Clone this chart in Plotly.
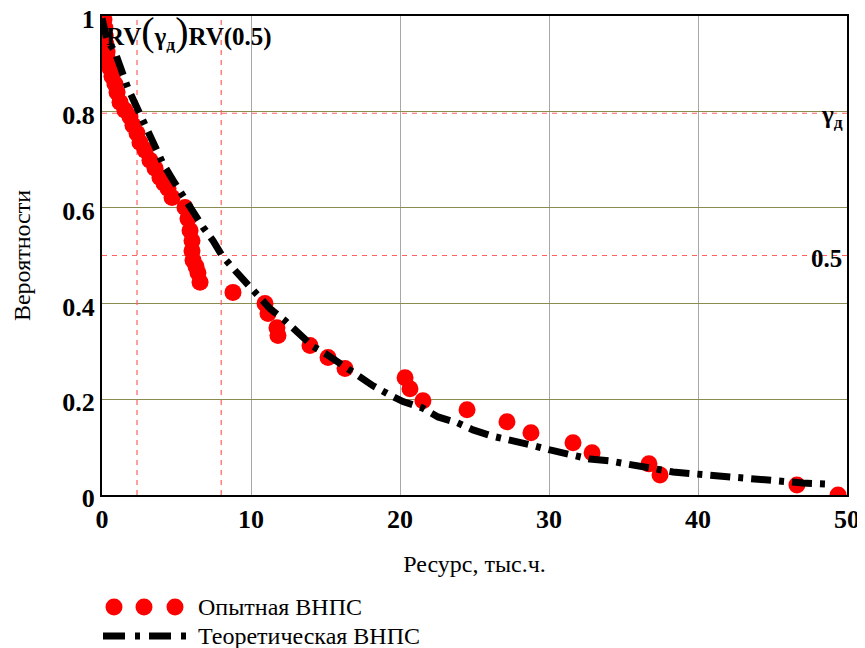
import plotly.graph_objects as go

# ---- data ----
exp_x = [0.05, 0.13, 0.20, 0.22, 0.27, 0.34, 0.40, 0.54, 0.67, 0.87, 1.01, 1.21, 1.54, 1.88, 2.08,
         2.35, 2.55, 2.89, 3.22, 3.56, 3.89, 4.16, 4.43, 4.70, 5.57, 5.77, 5.91, 6.04, 6.04, 6.11,
         6.31, 6.44, 6.58, 8.79, 10.94, 11.14, 11.74, 11.81, 13.96, 15.17, 16.31, 20.34, 20.67,
         21.54, 24.50, 27.18, 28.79, 31.61, 32.89, 36.71, 37.45, 46.64, 49.40]
exp_y = [1.000, 0.992, 0.975, 0.958, 0.941, 0.925, 0.908, 0.891, 0.874, 0.858, 0.841, 0.820, 0.803,
         0.789, 0.772, 0.755, 0.736, 0.720, 0.699, 0.682, 0.663, 0.651, 0.640, 0.621, 0.600, 0.577,
         0.552, 0.531, 0.510, 0.490, 0.477, 0.464, 0.444, 0.423, 0.400, 0.379, 0.349, 0.333, 0.312,
         0.287, 0.264, 0.245, 0.222, 0.197, 0.178, 0.153, 0.130, 0.109, 0.088, 0.065, 0.042, 0.021,
         0.000]

theo_x = [0.0, 0.34, 0.87, 1.34, 1.74, 2.21, 2.89, 3.56, 4.09, 4.77, 5.37, 6.11, 6.78, 7.45, 8.05,
          9.06, 9.73, 10.60, 11.28, 12.28, 13.09, 14.16, 15.10, 16.17, 17.05, 18.19, 19.19, 20.20,
          21.48, 22.55, 23.83, 24.90, 26.17, 27.52, 28.72, 30.07, 31.28, 32.75, 34.09, 35.44, 36.91,
          38.32, 39.80, 41.28, 42.68, 44.16, 45.70, 47.05, 48.59]
theo_y = [0.995, 0.950, 0.925, 0.881, 0.849, 0.818, 0.772, 0.734, 0.692, 0.657, 0.626, 0.594, 0.559,
          0.531, 0.500, 0.464, 0.441, 0.416, 0.389, 0.364, 0.339, 0.310, 0.293, 0.270, 0.251, 0.228,
          0.211, 0.195, 0.182, 0.163, 0.151, 0.136, 0.123, 0.115, 0.105, 0.094, 0.084, 0.075, 0.071,
          0.063, 0.056, 0.048, 0.044, 0.040, 0.038, 0.031, 0.029, 0.025, 0.023]

gamma_d = 0.8      # доверительная вероятность
rv_gamma = 2.35    # RV(γд)
rv_half = 8.0      # RV(0.5)
x_range = [0, 50]
y_range = [0, 1]
x_ticks = [0, 10, 20, 30, 40, 50]
y_ticks = [0, 0.2, 0.4, 0.6, 0.8, 1]
y_tick_text = ["0", "0.2", "0.4", "0.6", "0.8", "1"]

RED = "#ff0000"
REF = "#ff6060"
SERIF = '"Liberation Serif", "Times New Roman", Times, serif'
DASHDOT = "20px,8px,5px,8px"

# page geometry (the html body adds an 8px offset)
OFF = 8
W, H = 865, 648
PLOT_L, PLOT_R, PLOT_T, PLOT_B = 102, 847, 16, 495   # wanted page pixels


def px_x(p):
    return (p - PLOT_L) / (PLOT_R - PLOT_L)


def px_y(p):
    return (PLOT_B - p) / (PLOT_B - PLOT_T)


fig = go.Figure()

# reference (dashed red) lines
ref_style = dict(color=REF, width=1.2, dash="5px,5px")
fig.add_trace(go.Scatter(x=x_range, y=[gamma_d - 0.003, gamma_d - 0.003], mode="lines", line=ref_style,
                         hoverinfo="skip"))
fig.add_trace(go.Scatter(x=x_range, y=[0.5, 0.5], mode="lines", line=ref_style, hoverinfo="skip"))
fig.add_trace(go.Scatter(x=[rv_gamma, rv_gamma], y=y_range, mode="lines", line=ref_style, hoverinfo="skip"))
fig.add_trace(go.Scatter(x=[rv_half, rv_half], y=y_range, mode="lines", line=ref_style, hoverinfo="skip"))

# experimental
fig.add_trace(go.Scatter(x=exp_x, y=exp_y, mode="markers", name="Опытная ВНПС",
                         marker=dict(color=RED, size=17, line=dict(width=0))))
# theoretical
fig.add_trace(go.Scatter(x=theo_x, y=theo_y, mode="lines", name="Теоретическая ВНПС",
                         line=dict(color="black", width=7, dash=DASHDOT)))

# labels in the plot
fig.add_annotation(x=0, y=0.967, xref="x", yref="y", xanchor="left", yanchor="middle", xshift=2,
                   showarrow=False, font=dict(family=SERIF, size=25, color="black"),
                   text="<b>RV</b><span style='font-size:40px'>(</span><b>γ<sub>д</sub></b>"
                        "<span style='font-size:40px'>)</span><b>RV(0.5)</b>")
fig.add_annotation(x=50, y=gamma_d, xref="x", yref="y", xanchor="right", yanchor="middle", xshift=-2, yshift=-5,
                   showarrow=False, font=dict(family=SERIF, size=25, color="black"),
                   text="<b>γ<sub>д</sub></b>")
fig.add_annotation(x=50, y=0.5, xref="x", yref="y", xanchor="right", yanchor="middle", xshift=-3, yshift=-3,
                   showarrow=False, font=dict(family=SERIF, size=25, color="black"),
                   text="<b>0.5</b>")

# manual legend
for cx in (114, 144, 175):
    fig.add_shape(type="circle", xref="paper", yref="paper", xsizemode="pixel", ysizemode="pixel",
                  xanchor=px_x(cx), yanchor=px_y(607), x0=-8.5, x1=8.5, y0=-8.5, y1=8.5,
                  fillcolor=RED, line=dict(width=0))
fig.add_shape(type="line", xref="paper", yref="paper", x0=px_x(103), x1=px_x(187),
              y0=px_y(636), y1=px_y(636), line=dict(color="black", width=7, dash="22px,10px,5px,9px"))
fig.add_annotation(x=px_x(196), y=px_y(607), xref="paper", yref="paper", xanchor="left", yanchor="middle",
                   showarrow=False, text="Опытная ВНПС", font=dict(family=SERIF, size=24, color="black"))
fig.add_annotation(x=px_x(196), y=px_y(636), xref="paper", yref="paper", xanchor="left", yanchor="middle",
                   showarrow=False, text="Теоретическая ВНПС", font=dict(family=SERIF, size=24, color="black"))

fig.update_layout(
    width=W, height=H,
    margin=dict(l=PLOT_L - OFF, r=W - (PLOT_R - OFF), t=PLOT_T - OFF, b=H - (PLOT_B - OFF), autoexpand=False),
    paper_bgcolor="white", plot_bgcolor="white",
    showlegend=False,
    font=dict(family=SERIF, color="black"),
)
fig.update_xaxes(range=x_range, tickvals=x_ticks, showgrid=True, gridcolor="#a8a8a8", gridwidth=1,
                 zeroline=False, showline=True, linecolor="black", linewidth=2, mirror=True,
                 automargin=False, ticklabeloverflow="allow",
                 ticks="", tickfont=dict(family=SERIF, size=26, color="black", weight="bold"),
                 title=dict(text="Ресурс, тыс.ч.", font=dict(family=SERIF, size=24, color="black"), standoff=22))
fig.update_yaxes(range=y_range, tickvals=y_ticks, ticktext=y_tick_text, showgrid=True, gridcolor="#8c8c50",
                 gridwidth=1, zeroline=False, showline=True, linecolor="black", linewidth=2, mirror=True,
                 automargin=False, ticklabeloverflow="allow", ticklabelshift=3,
                 ticks="", tickfont=dict(family=SERIF, size=26, color="black", weight="bold"),
                 title=dict(text="Вероятности", font=dict(family=SERIF, size=24, color="black"), standoff=25))

fig.write_html("out.html")
